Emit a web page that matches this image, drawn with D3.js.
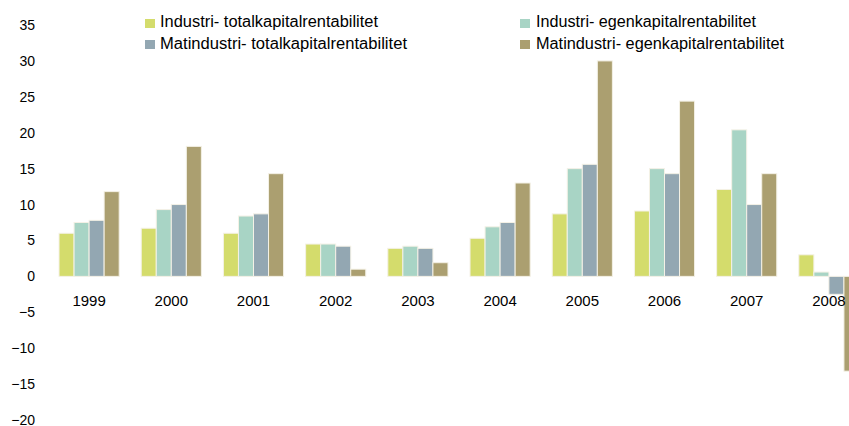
<!DOCTYPE html>
<html><head><meta charset="utf-8">
<script src="https://cdn.jsdelivr.net/npm/d3@7"></script>
<style>
html,body{margin:0;padding:0;background:#fff;overflow:hidden}
svg{display:block;font-family:"Liberation Sans",Arial,sans-serif}
</style></head>
<body>
<svg id="c" width="849" height="426"></svg>
<script>
const years = ["1999","2000","2001","2002","2003","2004","2005","2006","2007","2008"];
const seriesNames = [
  "Industri- totalkapitalrentabilitet",
  "Industri- egenkapitalrentabilitet",
  "Matindustri- totalkapitalrentabilitet",
  "Matindustri- egenkapitalrentabilitet"
];
const industriTotal = [6.0, 6.7, 6.0, 4.5, 3.9, 5.3, 8.7, 9.1, 12.1, 3.0];
const industriEgen  = [7.5, 9.3, 8.4, 4.5, 4.2, 6.9, 15.0, 15.0, 20.4, 0.6];
const matTotal      = [7.8, 10.0, 8.7, 4.2, 3.9, 7.5, 15.6, 14.3, 10.0, -2.5];
const matEgen       = [11.8, 18.1, 14.3, 1.0, 1.9, 13.0, 30.0, 24.4, 14.3, -13.2];
const colors = ["#d4dc6c", "#a8d4c5", "#93a7b2", "#ab9f70"];
const yTicks = [-20,-15,-10,-5,0,5,10,15,20,25,30,35];

const allSeries = [industriTotal, industriEgen, matTotal, matEgen];
const svg = d3.select("#c");

const y = d3.scaleLinear().domain([-20, 35]).range([420, 25]);
const x0 = d3.scaleBand().domain(years).range([48, 870]).paddingInner(22/82).paddingOuter(11/82);
const x1 = d3.scaleBand().domain(d3.range(4)).range([0, x0.bandwidth()]);

// bars
const g = svg.append("g");
years.forEach((yr, i) => {
  allSeries.forEach((s, k) => {
    const v = s[i];
    g.append("rect")
      .attr("x", x0(yr) + x1(k))
      .attr("width", x1.bandwidth())
      .attr("y", y(Math.max(0, v)))
      .attr("height", Math.abs(y(v) - y(0)))
      .attr("fill", colors[k])
      .attr("stroke", "#f4f1e6")
      .attr("stroke-width", 1);
  });
});

// y axis
const ya = svg.append("g").attr("transform", "translate(38,0)")
  .call(d3.axisLeft(y).tickValues(yTicks).tickSize(0).tickPadding(3).tickFormat(d3.format("d")));
ya.select(".domain").remove();
ya.selectAll("text").attr("font-size", 14).attr("fill", "#000").attr("font-family", "Liberation Sans, Arial, sans-serif");

// x axis labels
const xa = svg.append("g").attr("transform", "translate(0,295)")
  .call(d3.axisBottom(x0).tickSize(0).tickPadding(0));
xa.select(".domain").remove();
xa.selectAll("text").attr("font-size", 15).attr("fill", "#000").attr("font-family", "Liberation Sans, Arial, sans-serif");

// legend
const leg = [
  {k:0, mx:145, my:19, tx:160, ty:27, len:218},
  {k:2, mx:145, my:40, tx:160, ty:48.5, len:247},
  {k:1, mx:520, my:19, tx:536, ty:27, len:220},
  {k:3, mx:520, my:40, tx:536, ty:48.5, len:248}
];
leg.forEach(l => {
  svg.append("rect").attr("x", l.mx).attr("y", l.my).attr("width", 10).attr("height", 9).attr("fill", colors[l.k]);
  svg.append("text").attr("x", l.tx).attr("y", l.ty)
    .attr("font-size", 16).attr("fill", "#000")
    .attr("textLength", l.len).attr("lengthAdjust", "spacingAndGlyphs")
    .text(seriesNames[l.k]);
});
</script>
</body></html>
